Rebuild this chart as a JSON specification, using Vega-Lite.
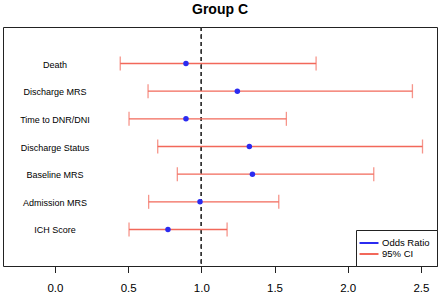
{
  "$schema": "https://vega.github.io/schema/vega-lite/v6.json",
  "width": 434,
  "height": 239,
  "autosize": {"type": "none"},
  "padding": {"left": 3, "top": 27, "right": 3, "bottom": 27},
  "background": "white",
  "title": {"text": "Group C", "font": "Liberation Sans", "fontSize": 14, "fontWeight": "bold", "color": "black", "baseline": "alphabetic", "offset": -1, "anchor": "middle", "frame": "group"},
  "data": {"values": [
    {"label": "Death", "rank": 7, "or": 0.895, "lo": 0.446, "hi": 1.784},
    {"label": "Discharge MRS", "rank": 6, "or": 1.246, "lo": 0.636, "hi": 2.442},
    {"label": "Time to DNR/DNI", "rank": 5, "or": 0.895, "lo": 0.506, "hi": 1.581},
    {"label": "Discharge Status", "rank": 4, "or": 1.328, "lo": 0.702, "hi": 2.511},
    {"label": "Baseline MRS", "rank": 3, "or": 1.349, "lo": 0.836, "hi": 2.178},
    {"label": "Admission MRS", "rank": 2, "or": 0.991, "lo": 0.640, "hi": 1.529},
    {"label": "ICH Score", "rank": 1, "or": 0.772, "lo": 0.506, "hi": 1.176}
  ]},
  "layer": [
    {
      "mark": {"type": "rule", "color": "#333", "strokeDash": [4, 3.5], "strokeWidth": 1},
      "encoding": {
        "x": {"datum": 1, "type": "quantitative", "scale": {"domain": [-0.355, 2.61], "nice": false, "zero": false},
          "axis": {"values": [0, 0.5, 1, 1.5, 2, 2.5], "format": ".1f", "title": null, "domain": false, "grid": false, "ticks": true, "tickSize": 6.5, "tickColor": "#222", "tickWidth": 1, "labelFont": "Liberation Sans", "labelFontSize": 11.5, "labelColor": "black", "labelPadding": 10, "labelFlush": false}}
      }
    },
    {
      "mark": {"type": "rule", "strokeWidth": 1.3},
      "encoding": {
        "x": {"field": "lo", "type": "quantitative"},
        "x2": {"field": "hi"},
        "y": {"field": "rank", "type": "quantitative", "scale": {"domain": [-0.32, 8.32], "nice": false, "zero": false}, "axis": null},
        "color": {"datum": "95% CI", "type": "nominal", "scale": {"domain": ["Odds Ratio", "95% CI"], "range": ["#2b2bf0", "#f2685a"]}, "legend": {"title": null, "symbolType": "M-2,0H2"}}
      }
    },
    {
      "mark": {"type": "tick", "orient": "vertical", "color": "#f2685a", "size": 14, "thickness": 1.3},
      "encoding": {
        "x": {"field": "lo", "type": "quantitative"},
        "y": {"field": "rank", "type": "quantitative"}
      }
    },
    {
      "mark": {"type": "tick", "orient": "vertical", "color": "#f2685a", "size": 14, "thickness": 1.3},
      "encoding": {
        "x": {"field": "hi", "type": "quantitative"},
        "y": {"field": "rank", "type": "quantitative"}
      }
    },
    {
      "mark": {"type": "point", "filled": true, "opacity": 1, "size": 30, "shape": "circle"},
      "encoding": {
        "x": {"field": "or", "type": "quantitative"},
        "y": {"field": "rank", "type": "quantitative"},
        "color": {"datum": "Odds Ratio", "type": "nominal", "legend": {"title": null, "symbolType": "M-2,0H2"}}
      }
    },
    {
      "mark": {"type": "text", "font": "Liberation Sans", "fontSize": 9, "color": "black", "align": "center", "baseline": "middle", "dy": 1},
      "encoding": {
        "x": {"datum": 0, "type": "quantitative"},
        "y": {"field": "rank", "type": "quantitative"},
        "text": {"field": "label"}
      }
    }
  ],
  "config": {
    "view": {"stroke": "#222", "strokeWidth": 1},
    "legend": {
      "orient": "bottom-right",
      "offset": 0,
      "strokeColor": "#222",
      "fillColor": "white",
      "padding": 7,
      "labelFont": "Liberation Sans",
      "labelFontSize": 9.5,
      "labelColor": "black",
      "symbolType": "M-2,0H2",
      "symbolSize": 90,
      "symbolStrokeWidth": 2,
      "rowPadding": 0,
      "labelOffset": 7,
      "cornerRadius": 0
    }
  }
}
